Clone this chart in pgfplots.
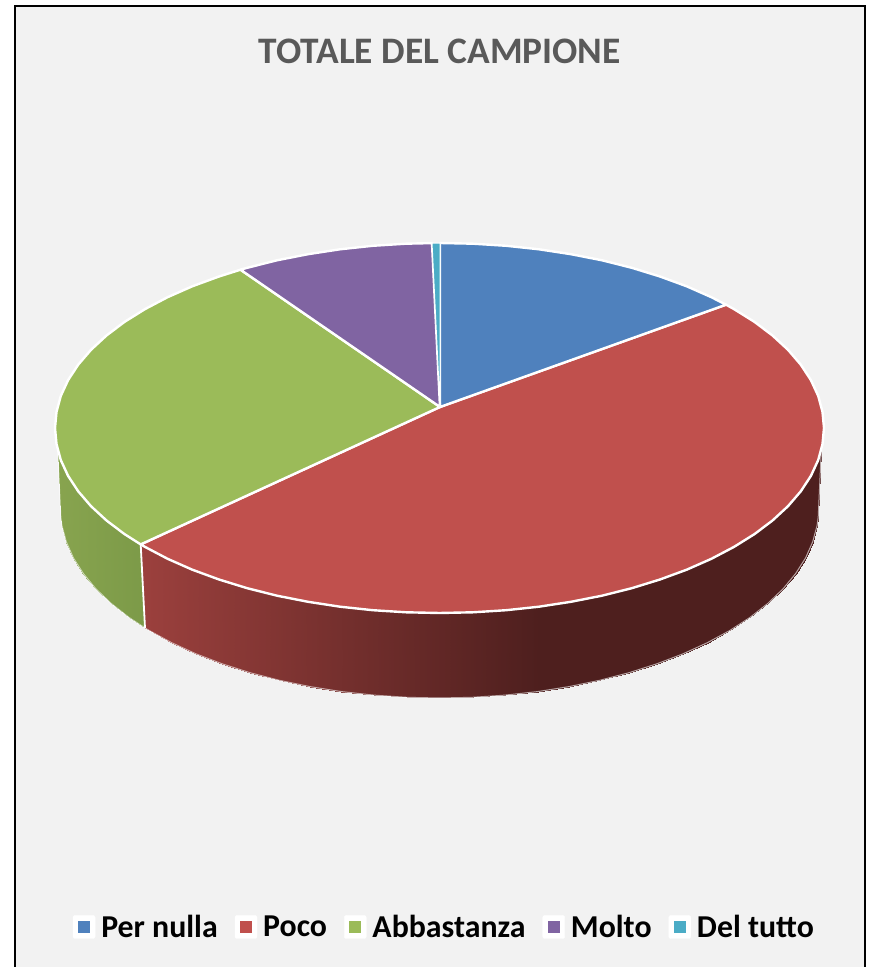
\documentclass[border=0pt]{standalone}
\usepackage{fontspec}
\setmainfont{Carlito}
\usepackage{pgfplots}
\pgfplotsset{compat=1.18}
\definecolor{cBlue}{HTML}{4F81BD}
\definecolor{cRed}{HTML}{C0504D}
\definecolor{cGreen}{HTML}{9BBB59}
\definecolor{cPurple}{HTML}{8064A2}
\definecolor{cTeal}{HTML}{4BACC6}
\definecolor{cBack}{HTML}{F2F2F2}
\definecolor{cTitle}{HTML}{595959}
\pgfplotsset{
  colormap={redwall}{rgb255(0pt)=(155,64,61); rgb255(105pt)=(155,64,61); rgb255(500pt)=(78,31,30); rgb255(785pt)=(78,31,30)},
  colormap={greenwall}{rgb255(0pt)=(138,166,80); rgb255(105pt)=(124,154,72); rgb255(785pt)=(124,154,72)},
}
\begin{document}
\begin{tikzpicture}
\begin{axis}[
  at={(0pt,0pt)},anchor=south west,
  scale only axis, width=868pt, height=967pt,
  xmin=-439.5, xmax=428.5, ymin=-539, ymax=428,
  hide axis, clip=true,
  point meta min=-400, point meta max=385,
  title={\bfseries TOTALE DEL CAMPIONE},
  title style={at={(0.5067,0.9403)},anchor=center,font=\fontsize{37.4}{42}\selectfont,text=cTitle},
  legend columns=5,
  legend style={at={(0.5120,0.0414)},anchor=center,draw=none,fill=none,
    font=\fontsize{31.85}{34}\selectfont\bfseries,
    /tikz/every even column/.append style={column sep=15pt},
    /tikz/every odd column/.append style={column sep=4pt},
    inner sep=0pt},
  legend image code/.code={
    \fill[white,rounded corners=2pt](0pt,-11.5pt)rectangle(22pt,11.5pt);
    \fill[#1,draw=none](5pt,-6pt)rectangle(17pt,6pt);
  },
]
% page, background and frame
\addplot[fill=white,draw=none,forget plot] coordinates {(-439.5,-539)(-439.5,428)(428.5,428)(428.5,-539)} --cycle;
\addplot[fill=cBack,draw=none,forget plot] coordinates {(-424.5,-539)(-424.5,422)(425.5,422)(425.5,-539)} --cycle;
\addplot[draw=black,line width=2pt,forget plot] coordinates {(-424.5,-539)(-424.5,422)(425.5,422)(425.5,-539)};

% side walls
\addplot[surf,shader=interp,colormap name=greenwall,mesh/rows=2,point meta=x,forget plot] coordinates {
(-381.8,-21.9)(-380.8,-25.7)(-378.7,-32.1)(-371.4,-47.9)(-361.3,-63.3)(-348.5,-78.2)(-333,-92.5)(-315,-106.1)(-298.8,-116.4)
(-378.7,-89)(-377.6,-97.5)(-373.2,-113.8)(-366.1,-129.9)(-356.1,-145.6)(-343.5,-160.9)(-328.2,-175.5)(-310.5,-189.4)(-294.5,-199.9)
};
\addplot[surf,shader=interp,colormap name=redwall,mesh/rows=2,point meta=x,forget plot] coordinates {
(-298.8,-116.4)(-294.5,-118.9)(-271.9,-130.8)(-247.2,-141.7)(-220.5,-151.5)(-192.3,-160.2)(-162.5,-167.7)(-131.5,-173.8)(-99.5,-178.7)(-66.8,-182.2)(-33.5,-184.3)(0,-185)(33.5,-184.3)(66.8,-182.2)(99.5,-178.7)(131.5,-173.8)(162.5,-167.7)(192.3,-160.2)(220.5,-151.5)(247.2,-141.7)(271.9,-130.8)(294.5,-118.9)(315,-106.1)(333,-92.5)(348.5,-78.2)(361.3,-63.3)(371.4,-47.9)(378.7,-32.1)(380.8,-25.7)(381.8,-21.9)
(-294.5,-199.9)(-290.3,-202.5)(-268,-214.6)(-243.6,-225.8)(-217.4,-235.8)(-189.5,-244.7)(-160.2,-252.3)(-129.6,-258.6)(-98.1,-263.6)(-65.8,-267.1)(-33,-269.3)(0,-270)(33,-269.3)(65.8,-267.1)(98.1,-263.6)(129.6,-258.6)(160.2,-252.3)(189.5,-244.7)(217.4,-235.8)(243.6,-225.8)(268,-214.6)(290.3,-202.5)(310.5,-189.4)(328.2,-175.5)(343.5,-160.9)(356.1,-145.6)(366.1,-129.9)(373.2,-113.8)(377.6,-97.5)(378.7,-89)
};
% thin light outline of the walls, and the seam
\addplot[draw=white,line width=1pt,opacity=0.6,line join=round,forget plot] coordinates {
(-381.8,-21.9)(-378.7,-89)(-377.6,-97.5)(-373.2,-113.8)(-366.1,-129.9)(-356.1,-145.6)(-343.5,-160.9)(-328.2,-175.5)(-310.5,-189.4)(-294.5,-199.9)(-290.3,-202.5)(-268,-214.6)(-243.6,-225.8)(-217.4,-235.8)(-189.5,-244.7)(-160.2,-252.3)(-129.6,-258.6)(-98.1,-263.6)(-65.8,-267.1)(-33,-269.3)(0,-270)(33,-269.3)(65.8,-267.1)(98.1,-263.6)(129.6,-258.6)(160.2,-252.3)(189.5,-244.7)(217.4,-235.8)(243.6,-225.8)(268,-214.6)(290.3,-202.5)(310.5,-189.4)(328.2,-175.5)(343.5,-160.9)(356.1,-145.6)(366.1,-129.9)(373.2,-113.8)(377.6,-97.5)(378.7,-89)(381.8,-21.9)
};
\addplot[draw=white,line width=1.8pt,forget plot] coordinates {(-298.8,-116.4)(-294.5,-199.9)};

% top slices
\addplot[fill=cRed,draw=white,line width=2.4pt,line join=round,forget plot] coordinates {
(0.5,21)(286.5,123.3)(294.5,118.9)(315,106.1)(333,92.5)(348.5,78.2)(361.3,63.3)(371.4,47.9)(378.7,32.1)(383,16.1)(384.5,0)(383,-16.1)(378.7,-32.1)(371.4,-47.9)(361.3,-63.3)(348.5,-78.2)(333,-92.5)(315,-106.1)(294.5,-118.9)(271.9,-130.8)(247.2,-141.7)(220.5,-151.5)(192.3,-160.2)(162.5,-167.7)(131.5,-173.8)(99.5,-178.7)(66.8,-182.2)(33.5,-184.3)(0,-185)(-33.5,-184.3)(-66.8,-182.2)(-99.5,-178.7)(-131.5,-173.8)(-162.5,-167.7)(-192.3,-160.2)(-220.5,-151.5)(-247.2,-141.7)(-271.9,-130.8)(-294.5,-118.9)(-298.8,-116.4)(0.5,21)
};
\addplot[fill=cGreen,draw=white,line width=2.4pt,line join=round,forget plot] coordinates {
(0.5,21)(-298.8,-116.4)(-315,-106.1)(-333,-92.5)(-348.5,-78.2)(-361.3,-63.3)(-371.4,-47.9)(-378.7,-32.1)(-383,-16.1)(-384.5,0)(-383,16.1)(-378.7,32.1)(-371.4,47.9)(-361.3,63.3)(-348.5,78.2)(-333,92.5)(-315,106.1)(-294.5,118.9)(-271.9,130.8)(-247.2,141.7)(-220.5,151.5)(-199,158.3)(0.5,21)
};
\addplot[fill=cBlue,draw=white,line width=2.4pt,line join=round,forget plot] coordinates {
(0.5,21)(0.5,185)(33.5,184.3)(66.8,182.2)(99.5,178.7)(131.5,173.8)(162.5,167.7)(192.3,160.2)(220.5,151.5)(247.2,141.7)(271.9,130.8)(286.5,123.3)(0.5,21)
};
\addplot[fill=cPurple,draw=white,line width=2.4pt,line join=round,forget plot] coordinates {
(0.5,21)(-199,158.3)(-192.3,160.2)(-162.5,167.7)(-131.5,173.8)(-99.5,178.7)(-66.8,182.2)(-33.5,184.3)(-7.5,184.9)(0.5,21)
};
\addplot[fill=cTeal,draw=white,line width=1pt,line join=round,forget plot] coordinates {
(0.5,21)(-7.5,184.9)(0.5,185)(0.5,21)
};

% legend
\addlegendimage{fill=cBlue}\addlegendentry{Per nulla}
\addlegendimage{fill=cRed}\addlegendentry{Poco}
\addlegendimage{fill=cGreen}\addlegendentry{Abbastanza}
\addlegendimage{fill=cPurple}\addlegendentry{Molto}
\addlegendimage{fill=cTeal}\addlegendentry{Del tutto}
\end{axis}
\pgfresetboundingbox
\useasboundingbox (0pt,0pt) rectangle (868pt,967pt);
\end{tikzpicture}
\end{document}
